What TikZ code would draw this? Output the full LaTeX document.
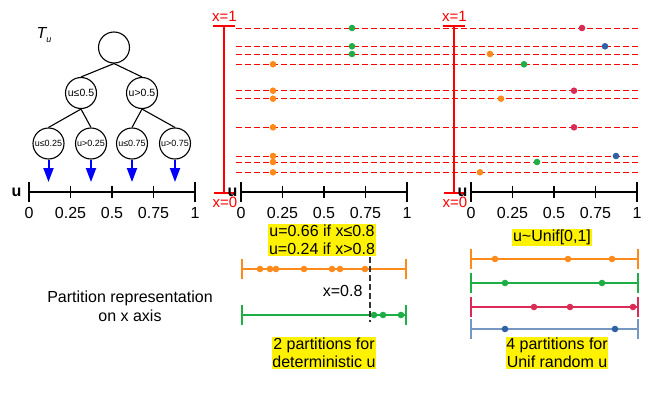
\documentclass[tikz,border=0pt]{standalone}
\usepackage{fontspec}
\setmainfont{Liberation Sans}
\usetikzlibrary{arrows.meta}
\definecolor{dorange}{HTML}{FF8A1C}
\definecolor{dgreen}{HTML}{1DAE46}
\definecolor{dcrimson}{HTML}{D92B56}
\definecolor{dblue}{HTML}{2F62A4}
\definecolor{lblue}{HTML}{7497C4}
\begin{document}
\begin{tikzpicture}[x=1pt,y=-1pt,font=\fontsize{16}{18.5}\selectfont,
 split/.style={draw,circle,line width=1.1pt,minimum size=31pt,inner sep=0pt},
 edge/.style={line width=1.1pt},
 down/.style={-{Triangle[length=14pt,width=10pt]},draw=blue,line width=2pt},
 axis/.style={line width=1.4pt},
 xbar/.style={draw=red,line width=1.4pt},
 level/.style={red,dash pattern=on 6pt off 3pt,line width=0.9pt},
 part/.style={line width=1.4pt},
 hl/.style={fill=yellow,inner sep=0.6pt,align=center},
 redlab/.style={red,font=\fontsize{15}{15}\selectfont,anchor=base}]
\useasboundingbox (0,0) rectangle (664,399);
% tree on u
\node[anchor=base west] (tu) at (33,38) {\itshape T\raisebox{-4pt}{\fontsize{9}{9}\selectfont u}};
\node[split] (root) at (114,47.5) {};
\node[split,font=\fontsize{10.5}{12}\selectfont] (l) at (81,93) {u≤0.5};
\node[split,font=\fontsize{10.5}{12}\selectfont] (r) at (142,93) {u>0.5};
\node[split,font=\fontsize{9}{10}\selectfont] (ll) at (48.5,143.5) {u≤0.25};
\node[split,font=\fontsize{9}{10}\selectfont] (lr) at (91,143.5) {u>0.25};
\node[split,font=\fontsize{9}{10}\selectfont] (rl) at (132,143.5) {u≤0.75};
\node[split,font=\fontsize{9}{10}\selectfont] (rr) at (175,143.5) {u>0.75};
\draw[edge] (root.south)--(l.north);
\draw[edge] (root.south)--(r.north);
\draw[edge] (l.south)--(ll.north);
\draw[edge] (l.south)--(lr.north);
\draw[edge] (r.south)--(rl.north);
\draw[edge] (r.south)--(rr.north);
\foreach \n in {ll,lr,rl,rr}{
  \coordinate (\n-u) at (\n.south |- 0,182);
  \draw[down] (\n.south)--(\n-u);
}
% u axes
\foreach \ox/\an in {29/a,241/b,471/c}{
  \draw[axis] (\ox,192)--(\ox+166,192);
  \draw[axis] (\ox,182)--(\ox,202);
  \draw[axis] (\ox+166,182)--(\ox+166,202);
  \foreach \t in {0.25,0.5,0.75}
    \draw[axis] (\ox+166*\t,186)--(\ox+166*\t,198);
  \foreach \t/\lab [count=\i] in {0/0,0.25/0.25,0.5/0.5,0.75/0.75,1/1}
    \node[anchor=base] (tick-\an\i) at (\ox+166*\t,218) {\lab};
}
\node[font=\fontsize{16}{16}\selectfont\bfseries] (ua) at (16.5,192.5) {u};
% x bars
\foreach \bx/\bn in {224/m,454/r}{
  \draw[xbar] (\bx-11,26)--(\bx+11,26);
  \draw[xbar] (\bx,26)--(\bx,193);
  \draw[xbar] (\bx-10,193)--(\bx+10,193);
  \node[redlab] (one-\bn) at (\bx+0.5,21.5) {x=1};
  \node[redlab] (zero-\bn) at (\bx+1,207) {x=0};
}
\node[font=\fontsize{16}{16}\selectfont\bfseries] (ub) at (232.5,192.5) {u};
\node[font=\fontsize{16}{16}\selectfont\bfseries] (uc) at (462.5,192.5) {u};
% sampled x levels
\foreach \ly in {28,46.3,54,64.3,90.7,98.7,127.3,156,162,172.3}
  \draw[level] (236,\ly)--(638,\ly);
\foreach \ly/\px/\c in {28/352/dgreen,46.3/352/dgreen,54/352/dgreen,
  64.3/273/dorange,90.7/273/dorange,98.7/273/dorange,127.3/273/dorange,
  156/273/dorange,162/273/dorange,172.3/273/dorange}
  \fill[\c] (\px,\ly) circle (3.3pt);
\foreach \ly/\px/\c in {28/582/dcrimson,46.3/605/dblue,54/490/dorange,
  64.3/524/dgreen,90.7/574/dcrimson,98.7/501/dorange,127.3/574/dcrimson,
  156/616/dblue,162/537/dgreen,172.3/480/dorange}
  \fill[\c] (\px,\ly) circle (3.3pt);
% deterministic u
\node[hl] (rule) at (322,240) {u=0.66 if x≤0.8\\u=0.24 if x>0.8};
\draw[part,dorange] (242,269)--(406,269);
\draw[part,dorange] (242,259)--(242,279);
\draw[part,dorange] (406,259)--(406,279);
\foreach \px in {260,270,276,304,332,340,365}
  \fill[dorange] (\px,269) circle (3.3pt);
\draw[part,dgreen] (242,315)--(406,315);
\draw[part,dgreen] (242,305)--(242,325);
\draw[part,dgreen] (406,305)--(406,325);
\foreach \px in {374,383,401}
  \fill[dgreen] (\px,315) circle (3.3pt);
\draw[black!80,dash pattern=on 6pt off 3pt,line width=1.4pt] (370,257)--(370,322);
\node[anchor=east] (cut) at (366,291) {x=0.8};
\node[hl] (det) at (324,353) {2 partitions for\\deterministic u};
% random u
\node[hl] (unif) at (552,237.5) {u\textasciitilde Unif[0,1]};
\foreach \py/\c/\dc/\dots in {259/dorange/dorange/{495,568,612},
  283/dgreen/dgreen/{505,602},307/dcrimson/dcrimson/{534,570,633},
  329/lblue/dblue/{505,615}}{
  \draw[part,\c] (471,\py)--(638,\py);
  \draw[part,\c] (471,\py-10)--(471,\py+10);
  \draw[part,\c] (638,\py-10)--(638,\py+10);
  \foreach \px in \dots
    \fill[\dc] (\px,\py) circle (3.3pt);
}
\node[hl] (rand) at (557,353) {4 partitions for\\Unif random u};
\node[align=center] (partlab) at (130,306.5) {Partition representation\\on x axis};
\end{tikzpicture}
\end{document}
